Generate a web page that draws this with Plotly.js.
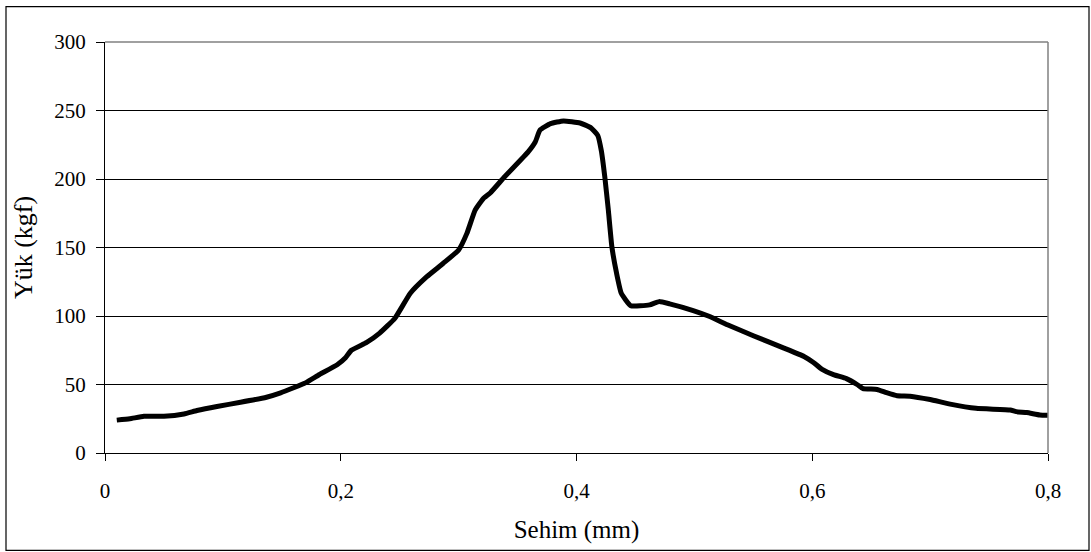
<!DOCTYPE html>
<html>
<head>
<meta charset="utf-8">
<script src="https://cdn.plot.ly/plotly-3.0.1.min.js"></script>
<style>
  html, body { margin: 0; padding: 0; background: #fff; }
  #chart { width: 1091px; height: 552px; }
</style>
</head>
<body>
<div id="chart"></div>
<script>
// Sehim (mm) — deflection
const sehim = [0.010, 0.021, 0.033, 0.050, 0.067, 0.078, 0.095, 0.115, 0.137, 0.149,
  0.160, 0.170, 0.182, 0.197, 0.204, 0.209, 0.222, 0.233, 0.246, 0.259,
  0.273, 0.287, 0.300, 0.307, 0.314, 0.321, 0.327, 0.339, 0.359, 0.365,
  0.369, 0.378, 0.389, 0.403, 0.412, 0.418, 0.421, 0.424, 0.427, 0.430,
  0.434, 0.438, 0.446, 0.462, 0.470, 0.479, 0.499, 0.513, 0.528, 0.550,
  0.576, 0.593, 0.601, 0.608, 0.618, 0.629, 0.638, 0.643, 0.655, 0.663,
  0.672, 0.683, 0.700, 0.717, 0.739, 0.768, 0.773, 0.782, 0.793, 0.800];
// Yük (kgf) — load
const yuk = [24.0, 25.0, 26.8, 26.8, 28.5, 31.0, 34.0, 37.0, 40.7, 43.9,
  47.6, 51.2, 57.3, 64.4, 69.5, 75.0, 80.7, 87.5, 98.4, 116.6,
  128.7, 138.5, 148.2, 160.3, 177.3, 185.8, 190.0, 201.6, 219.8, 227.0,
  235.6, 240.4, 242.4, 240.9, 237.5, 231.9, 221.0, 201.6, 177.3, 150.6,
  131.2, 116.6, 107.5, 108.1, 110.5, 108.9, 104.0, 99.6, 93.6, 85.6,
  76.6, 70.5, 66.1, 61.3, 57.2, 54.3, 50.0, 47.0, 46.4, 44.0,
  41.8, 41.5, 39.0, 35.7, 32.6, 31.4, 30.2, 29.5, 27.8, 27.5];

const xTicks = [0, 0.2, 0.4, 0.6, 0.8];
const xTickText = ['0', '0,2', '0,4', '0,6', '0,8'];
const yTicks = [0, 50, 100, 150, 200, 250, 300];

const fontFam = 'Liberation Serif';

const trace = {
  x: sehim, y: yuk, type: 'scatter', mode: 'lines',
  line: { color: '#000', width: 5, shape: 'spline', smoothing: 0.4 },
  hoverinfo: 'skip'
};

const layout = {
  width: 1091, height: 552,
  margin: { l: 105, r: 43, t: 42, b: 98.5 },
  paper_bgcolor: '#fff', plot_bgcolor: '#fff',
  separators: ',.',
  showlegend: false,
  font: { family: fontFam, size: 21, color: '#000' },
  xaxis: {
    range: [0, 0.8], tickvals: xTicks, ticktext: xTickText,
    showgrid: false, zeroline: false,
    showline: true, linecolor: '#000', linewidth: 1,
    ticks: 'outside', ticklen: 7, tickcolor: '#000', tickwidth: 1,
    ticklabelstandoff: 12,
    tickfont: { family: fontFam, size: 21, color: '#000' },
    title: { text: 'Sehim (mm)', font: { family: fontFam, size: 25, color: '#000' }, standoff: 18 },
    automargin: false,
    fixedrange: true
  },
  yaxis: {
    range: [0, 300], tickvals: yTicks,
    showgrid: true, gridcolor: '#000', gridwidth: 1, zeroline: false,
    showline: true, linecolor: '#000', linewidth: 1,
    ticks: 'outside', ticklen: 8, tickcolor: '#000', tickwidth: 1,
    ticklabelstandoff: 6,
    tickfont: { family: fontFam, size: 21, color: '#000' },
    title: { text: 'Yük (kgf)', font: { family: fontFam, size: 26, color: '#000' }, standoff: 14 },
    automargin: false,
    fixedrange: true
  },
  shapes: [
    { type: 'line', xref: 'paper', yref: 'paper', x0: 0, x1: 1, y0: 1, y1: 1, line: { color: '#808080', width: 1.5 } },
    { type: 'line', xref: 'paper', yref: 'paper', x0: 1, x1: 1, y0: 0, y1: 1, line: { color: '#808080', width: 1.5 } },
    { type: 'rect', xref: 'paper', yref: 'paper',
      x0: (6 - 105) / 943, x1: (1089 - 105) / 943,
      y0: (453.5 - 551) / 411.5, y1: (453.5 - 6.5) / 411.5,
      line: { color: '#000', width: 1.2 }, fillcolor: 'rgba(0,0,0,0)', layer: 'above' }
  ]
};

Plotly.newPlot('chart', [trace], layout, { staticPlot: true, displayModeBar: false });
</script>
</body>
</html>
